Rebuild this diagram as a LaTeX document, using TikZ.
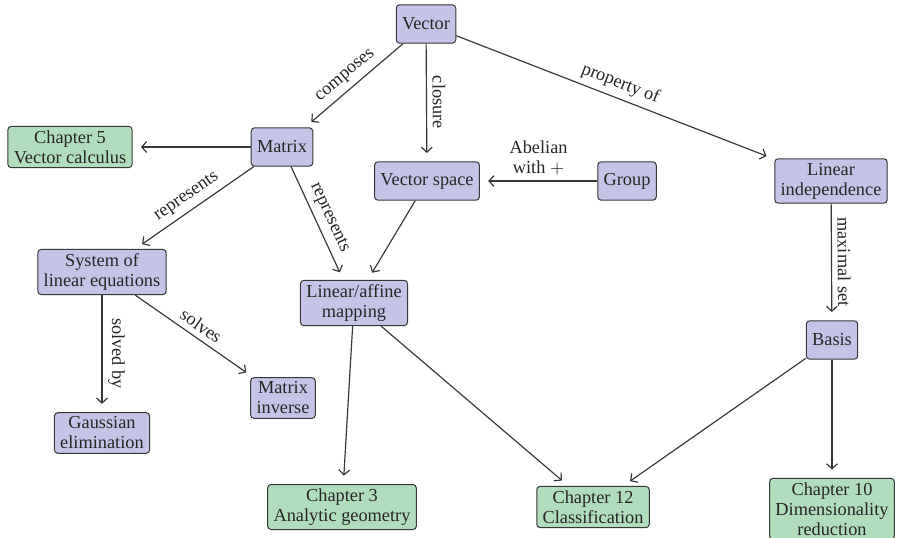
\documentclass[tikz,border=0pt]{standalone}
\usepackage{fontspec}
\setmainfont{Liberation Serif}
\usetikzlibrary{arrows.meta}

\definecolor{conceptblue}{RGB}{196,196,232}
\definecolor{chaptergreen}{RGB}{176,221,188}
\definecolor{edgegray}{RGB}{55,55,55}

\tikzset{
  concept/.style={draw=edgegray, fill=conceptblue, line width=0.6pt, rounded corners=2pt,
    align=center, inner xsep=3.5pt, inner ysep=2.5pt, minimum height=23pt,
    font=\fontsize{11}{12}\selectfont, text=black!85},
  chapter/.style={concept, fill=chaptergreen},
  link/.style={draw=edgegray, line width=0.7pt, -{Straight Barb[length=3pt,width=6.5pt]}, shorten >=5pt},
  tag/.style={font=\fontsize{11}{12}\selectfont, text=black!85, sloped, above, align=center}
}

\begin{document}
\begin{tikzpicture}[x=0.6pt, y=-0.6pt]

  \useasboundingbox (0,0) rectangle (898,537);

  % -- Concepts --
  \node[concept] (vector) at (426,24) {Vector};
  \node[concept] (matrix) at (282,147) {Matrix};
  \node[concept] (space) at (427,181) {Vector space};
  \node[concept] (group) at (627,181) {Group};
  \node[concept] (indep) at (831,181) {Linear\\independence};
  \node[concept] (system) at (102,272) {System of\\linear equations};
  \node[concept] (mapping) at (354,303) {Linear/affine\\mapping};
  \node[concept] (basis) at (832,340) {Basis};
  \node[concept] (gauss) at (102,433) {Gaussian\\elimination};
  \node[concept] (inverse) at (283,398) {Matrix\\inverse};

  % -- Chapters --
  \node[chapter] (ch5) at (70,147) {Chapter 5\\Vector calculus};
  \node[chapter] (ch3) at (342,507) {Chapter 3\\Analytic geometry};
  \node[chapter] (ch12) at (593,507) {Chapter 12\\Classification};
  \node[chapter] (ch10) at (832,509) {Chapter 10\\Dimensionality\\reduction};

  % -- Links --
  \draw[link] (vector) -- node[tag] {composes} (matrix);
  \draw[link] (vector) -- node[tag] {closure} (space);
  \draw[link] (vector) -- node[tag] {property of} (indep);
  \draw[link] (group) -- node[tag] {Abelian\\with $+$} (space);
  \draw[link] (matrix) -- (ch5);
  \draw[link] (matrix) -- node[tag] {represents} (system);
  \draw[link] (matrix) -- node[tag] {represents} (mapping);
  \draw[link] (space) -- (mapping);
  \draw[link] (indep) -- node[tag] {maximal set} (basis);
  \draw[link] (system) -- node[tag] {solved by} (gauss);
  \draw[link] (system) -- node[tag] {solves} (inverse);
  \draw[link] (mapping) -- (ch3);
  \draw[link] (mapping) -- (ch12);
  \draw[link] (basis) -- (ch12);
  \draw[link] (basis) -- (ch10);

\end{tikzpicture}
\end{document}
